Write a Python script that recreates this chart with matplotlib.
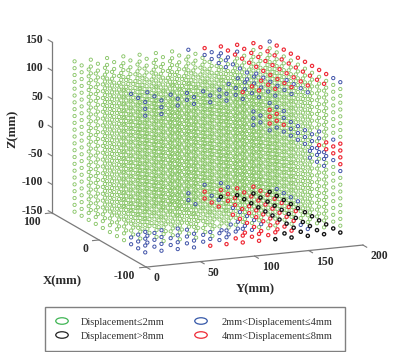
import numpy as np
import matplotlib
matplotlib.use("Agg")
import matplotlib.pyplot as plt
from matplotlib.patches import Ellipse, Rectangle
from mpl_toolkits.mplot3d import proj3d

W, H = 400, 352
x_values = [75, 60, 45, 30, 15, 0, -15, -30, -45, -60, -75]
y_values = [10, 25, 40, 55, 70, 85, 100, 115, 130, 145, 160, 175, 190]
z_values = [-138, -126, -114, -102, -90, -78, -66, -54, -42, -30, -18, -6, 6,
            18, 30, 42, 54, 66, 78, 90, 102, 114, 126]

# displacement classes, as (x index, z index, y indices)
red_rows = [
    (0, 22, [8, 9, 10, 11]), (1, 22, [9, 10, 11, 12]), (2, 22, [9, 10, 11, 12]),
    (3, 22, [9, 10, 11, 12]), (4, 22, [9, 10, 11, 12]), (5, 22, [9, 10, 11, 12]),
    (6, 22, [9, 10, 11, 12]), (7, 22, [9, 10, 11, 12]), (8, 22, [8, 9, 10, 11, 12]),
    (9, 22, [7, 8, 9, 10, 11]), (10, 22, [6, 7, 8, 9, 10, 11]),
    (0, 10, [12]), (0, 11, [12]), (0, 12, [12]), (1, 11, [12]), (1, 12, [12]),
    (2, 11, [12]), (7, 11, [12]), (8, 11, [12]), (8, 12, [12]), (9, 11, [12]),
    (9, 12, [12]), (10, 10, [12]), (10, 11, [12]), (10, 12, [12]), (10, 13, [12]),
    (0, 0, [8]), (1, 0, [8, 9]), (2, 0, [8, 9]), (3, 0, [9]), (4, 0, [8, 9]),
    (5, 0, [8, 9]), (6, 0, [8, 9]), (7, 0, [8, 9]), (8, 0, [7, 8, 9]),
    (9, 0, [6, 7, 8]), (10, 0, [4, 5, 6, 7]),
    (0, 1, [8, 9, 10, 11]), (1, 1, [9, 10, 11]), (2, 1, [9, 10, 11]),
    (3, 1, [10, 11]), (4, 1, [9, 10, 11]), (5, 1, [9, 10, 11]), (6, 1, [9, 10, 11]),
    (7, 1, [9, 10]), (8, 1, [9, 10]), (9, 1, [9]), (10, 1, [6, 7, 8, 9]),
]
blue_rows = [
    (0, 22, [7, 12]), (1, 22, [8]), (2, 22, [8]), (3, 22, [8]), (4, 22, [8]),
    (5, 22, [8]), (6, 22, [8]), (7, 22, [7, 8]), (8, 22, [0, 1, 6, 7]),
    (9, 22, [0, 1, 2, 3, 4, 5, 6, 12]), (10, 22, [0, 1, 2, 3, 4, 5, 12]),
    (0, 21, [8, 9, 10]), (1, 21, [8, 9]), (2, 21, [8]), (3, 21, [8]), (5, 21, [9]),
    (6, 21, [8, 9]), (7, 21, [8, 9, 10]), (8, 21, [7, 8, 9, 10]),
    (9, 21, [3, 5, 6, 7, 8, 9, 10]), (10, 21, [0, 1, 2, 3, 4, 5, 6, 7, 8, 9, 10]),
    (10, 20, [0, 1]),
    (0, 9, [12]), (0, 13, [12]), (1, 10, [12]), (1, 13, [12]), (2, 10, [12]),
    (2, 12, [12]), (2, 13, [12]), (3, 10, [12]), (3, 11, [12]), (3, 12, [12]),
    (4, 10, [12]), (4, 11, [12]), (4, 12, [12]), (5, 10, [12]), (5, 11, [12]),
    (5, 12, [12]), (6, 10, [12]), (6, 11, [12]), (6, 12, [12]), (7, 10, [12]),
    (7, 12, [12]), (7, 13, [12]), (8, 10, [11, 12]), (8, 11, [11]), (9, 10, [11, 12]),
    (9, 11, [11]), (9, 12, [11]), (9, 13, [12]), (10, 9, [12]), (10, 10, [11]),
    (10, 11, [11]), (10, 12, [11]), (0, 10, [11]), (0, 11, [11]), (0, 12, [11]),
    (1, 11, [11]), (1, 12, [11]),
    (8, 0, [0, 1, 6]), (8, 1, [0, 1, 7, 8]), (9, 0, [0, 1, 2, 3, 4, 5]),
    (9, 1, [0, 1, 2, 3, 4, 5, 6, 7, 10]), (9, 2, [0, 1, 3]),
    (10, 0, [0, 1, 2, 3]), (10, 1, [0, 1, 2, 3, 4, 5, 10]),
    (10, 2, [0, 1, 2, 3, 4, 5, 6]), (10, 3, [0, 1, 2]),
    (0, 0, [7]), (0, 1, [7]), (1, 0, [7]), (0, 2, [8, 9]), (1, 1, [8, 12]),
    (2, 1, [8, 12]), (1, 2, [9]), (3, 1, [12]), (4, 1, [8, 12]), (5, 1, [8]),
    (6, 1, [8]), (7, 1, [7, 8]), (7, 0, [6, 7]), (6, 0, [7]),
]
black_rows = [
    (0, 0, [9, 10, 11, 12]), (1, 0, [10, 11, 12]), (2, 0, [10, 11, 12]),
    (3, 0, [10, 11, 12]), (4, 0, [10, 11, 12]), (5, 0, [10, 11, 12]),
    (6, 0, [10, 11, 12]), (7, 0, [10, 11, 12]), (8, 0, [10, 11, 12]),
    (9, 0, [9, 10, 11, 12]), (10, 0, [8, 9, 10, 11, 12]),
]
x_ticks = [100, 0, -100]
y_ticks = [0, 50, 100, 150, 200]
z_ticks = [150, 100, 50, 0, -50, -100, -150]
legend_labels = ["Displacement≤2mm", "Displacement>8mm",
                 "2mm<Displacement≤4mm", "4mm<Displacement≤8mm"]


def expand(rows):
    return [(ix, iz, iy) for ix, iz, iys in rows for iy in iys]


def coords(points):
    return ([x_values[p[0]] for p in points],
            [y_values[p[2]] for p in points],
            [z_values[p[1]] for p in points])


red = set(expand(red_rows))
black = set(expand(black_rows)) - red
blue = set(expand(blue_rows)) - red - black
green = [(i, k, j) for i in range(len(x_values)) for k in range(len(z_values))
         for j in range(len(y_values)) if (i, k, j) not in red | black | blue]

plt.rcParams["font.family"] = ["Liberation Serif", "DejaVu Serif"]
fig = plt.figure(figsize=(W / 100, H / 100), dpi=100)
ax = fig.add_axes([0, 0, 1, 1], projection="3d", proj_type="ortho",
                  computed_zorder=False)
ax.view_init(elev=14, azim=-22.8)
ax.set_box_aspect((243, 235, 176))
ax.set_xlim(100, -100, view_margin=0)
ax.set_ylim(0, 200, view_margin=0)
ax.set_zlim(-150, 150, view_margin=0)
ax.set_axis_off()


def project(x, y, z):
    xd, yd, _ = proj3d.proj_transform(x, y, z, ax.get_proj())
    vl = ax.viewLim
    return (xd - vl.x0) / (vl.x1 - vl.x0), (yd - vl.y0) / (vl.y1 - vl.y0)


# fit the square axes so the box corners land on the reference's axis ends
anchors = [((100, 0, 150), (52, 42)), ((100, 0, -150), (52, 213)),
           ((-100, 0, -150), (146, 267)), ((-100, 200, -150), (363, 245))]
A, b = [], []
for pt, (px, py) in anchors:
    fx, fy = project(*pt)
    A.append([fx, 1, 0]); b.append(px)
    A.append([fy, 0, 1]); b.append(H - py)
side, left, bottom = np.linalg.lstsq(np.array(A), np.array(b), rcond=None)[0]
ax.set_position([left / W, bottom / H, side / W, side / H])


def to_fig(x, y, z, dx=0, dy=0):
    fx, fy = project(x, y, z)
    return (left + side * fx + dx) / W, (bottom + side * fy - dy) / H


for pts, col, lw, size in [(green, "#86c464", 0.62, 5.5), (sorted(blue), "#3f52a8", 0.7, 5.5),
                           (sorted(red), "#ee2a36", 0.85, 5.5), (sorted(black), "#111111", 0.95, 5.5)]:
    xs, ys, zs = coords(pts)
    ax.scatter(xs, ys, zs, s=size, facecolors="none", edgecolors=col,
               linewidths=lw, depthshade=False)

axis_col = "#7a7a7a"
ax.plot([100, 100], [0, 0], [-150, 150], color=axis_col, lw=0.9)
ax.plot([100, -100], [0, 0], [-150, -150], color=axis_col, lw=0.9)
ax.plot([-100, -100], [0, 200], [-150, -150], color=axis_col, lw=0.9)
for z in z_ticks:
    ax.plot([100, 108], [0, 0], [z, z], color=axis_col, lw=0.8)
for x in x_ticks:
    ax.plot([x, x], [0, -6], [-150, -150], color=axis_col, lw=0.8)
for y in y_ticks:
    ax.plot([-100, -108], [y, y], [-150, -150], color=axis_col, lw=0.8)

tick_kw = dict(fontsize=8.4, fontweight="bold", color="#2a2a2a", va="center")
for z in z_ticks:
    fig.text(*to_fig(100, 0, z, -9, -2), str(z), ha="right", **tick_kw)
for x in x_ticks:
    fig.text(*to_fig(x, 0, -150, -11, 9), str(x), ha="right", **tick_kw)
for y in y_ticks:
    fig.text(*to_fig(-100, y, -150, 7.5, 11), str(y), ha="left", **tick_kw)

label_kw = dict(fontsize=9.2, fontweight="bold", color="#2a2a2a", ha="center", va="center")
fig.text(12.5 / W, 1 - 129 / H, "Z(mm)", rotation=90, **label_kw)
fig.text(62 / W, 1 - 281 / H, "X(mm)", **label_kw)
fig.text(255 / W, 1 - 289 / H, "Y(mm)", **label_kw)

# legend box
fig.add_artist(Rectangle((44.5 / W, 1 - 351 / H), 300 / W, 44 / H, transform=fig.transFigure,
                         facecolor="white", edgecolor="#808080", lw=1.0))
legend_pos = [(62, 321), (62, 335), (201, 321), (201, 335)]
legend_txt = [81, 81, 222, 222]
legend_col = ["#3fb554", "#222222", "#3558a8", "#ee2a36"]
for (mx, my), tx, col, lab in zip(legend_pos, legend_txt, legend_col, legend_labels):
    fig.add_artist(Ellipse((mx / W, 1 - my / H), 12.5 / W, 6.5 / H, transform=fig.transFigure,
                           facecolor="none", edgecolor=col, lw=0.9))
    fig.text(tx / W, 1 - (my + 1.5) / H, lab, fontsize=7.5, color="#333333", va="center")

fig.savefig("out.png", dpi=100)
